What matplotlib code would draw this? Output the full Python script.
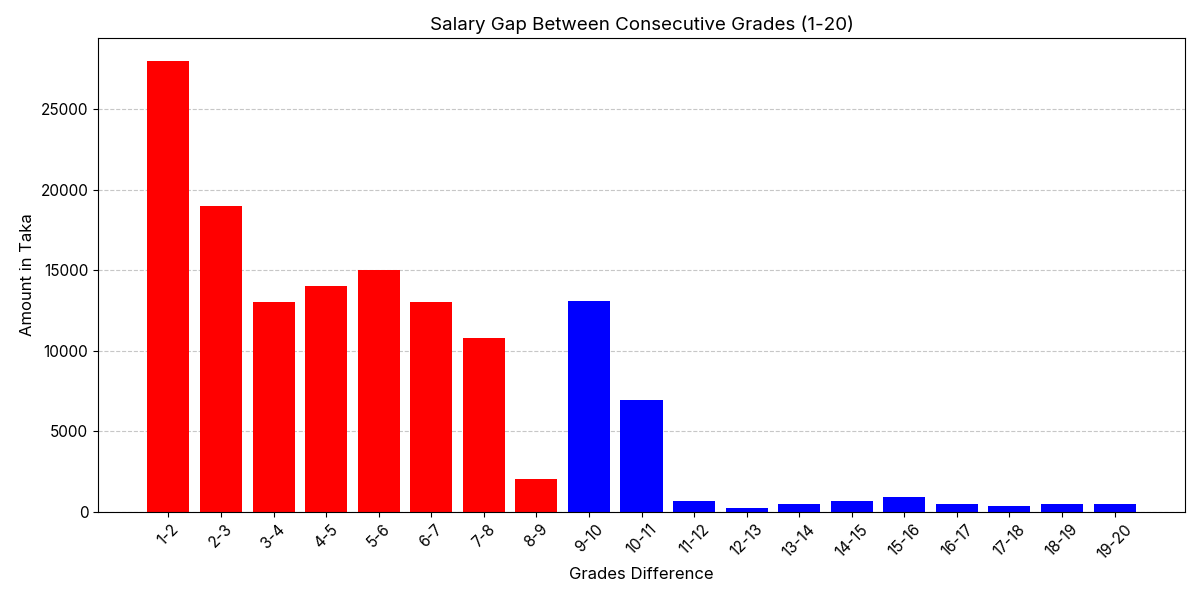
import matplotlib
matplotlib.use("Agg")
import matplotlib.pyplot as plt

plt.rcParams['font.family'] = ['Inter', 'DejaVu Sans']

# grade pairs and the salary gap between them
grades = ["1-2", "2-3", "3-4", "4-5", "5-6", "6-7", "7-8", "8-9", "9-10", "10-11",
          "11-12", "12-13", "13-14", "14-15", "15-16", "16-17", "17-18", "18-19", "19-20"]
gaps = [28000, 19000, 13000, 14000, 15000, 13000, 10800, 2050, 13100, 6950,
        700, 250, 500, 700, 900, 500, 400, 500, 500]
colors = ["red"] * 8 + ["blue"] * 11

fig, ax = plt.subplots(figsize=(12, 6))
ax.bar(grades, gaps, color=colors, zorder=2)
ax.grid(axis="y", linestyle="--", alpha=0.7, zorder=0)

ax.set_title("Salary Gap Between Consecutive Grades (1-20)", fontsize=13.5)
ax.set_xlabel("Grades Difference", fontsize=12)
ax.set_ylabel("Amount in Taka", fontsize=12)
plt.xticks(rotation=45, fontsize=11)
plt.yticks(fontsize=11)

# same frame as the reference
fig.subplots_adjust(left=0.0817, right=0.9875, top=0.9367, bottom=0.1467)
plt.savefig("out.png", dpi=100)
